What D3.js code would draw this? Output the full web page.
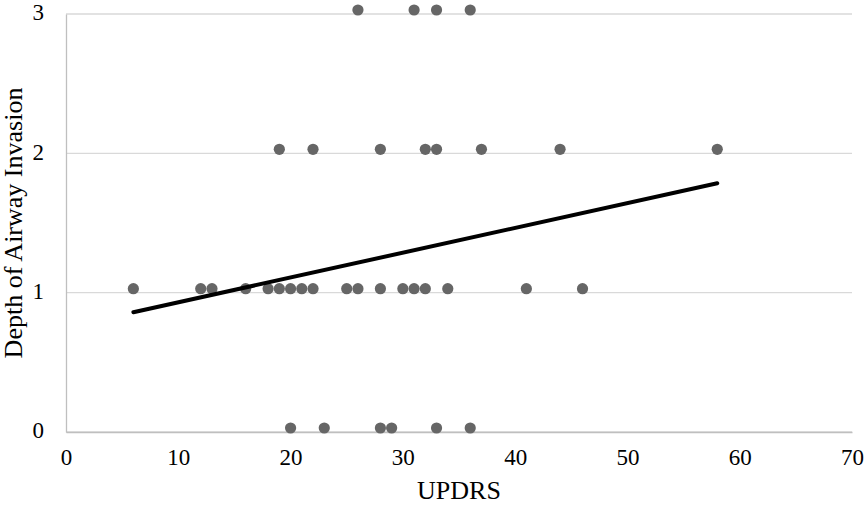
<!DOCTYPE html>
<html>
<head>
<meta charset="utf-8">
<script src="https://cdn.jsdelivr.net/npm/d3@7"></script>
<style>
  body { margin: 0; background: #fff; }
  svg text { font-family: "Liberation Serif", "Times New Roman", serif; fill: #000; }
  .tick text { font-size: 23px; }
</style>
</head>
<body>
<svg id="chart" width="866" height="505"></svg>
<script>
// UPDRS score of each patient, grouped by depth of airway invasion
const depth3 = [26, 31, 33, 36];
const depth2 = [19, 22, 28, 32, 33, 37, 44, 58];
const depth1 = [6, 12, 13, 16, 18, 19, 20, 21, 22, 25, 26, 28, 30, 31, 32, 34, 41, 46];
const depth0 = [20, 23, 28, 29, 33, 36];

// linear trendline (x, y)
const trendX = [6, 58];
const trendY = [0.86, 1.785];

const xTicks = [0, 10, 20, 30, 40, 50, 60, 70];
const yTicks = [0, 1, 2, 3];

const svg = d3.select("#chart");
const margin = {top: 14, right: 14, bottom: 73, left: 66};
const width = 866 - margin.left - margin.right;
const height = 505 - margin.top - margin.bottom;

const g = svg.append("g").attr("transform", `translate(${margin.left},${margin.top})`);

const x = d3.scaleLinear().domain([0, 70]).range([0, width]);
const y = d3.scaleLinear().domain([0, 3]).range([height, 0]);

// horizontal gridlines
g.append("g")
    .selectAll("line")
    .data(yTicks)
    .join("line")
    .attr("x1", 0).attr("x2", width)
    .attr("y1", d => y(d)).attr("y2", d => y(d))
    .attr("stroke", "#d9d9d9")
    .attr("stroke-width", 1.3);

// axes
const xAxis = g.append("g")
    .attr("transform", `translate(0,${height})`)
    .call(d3.axisBottom(x).tickValues(xTicks).tickFormat(d3.format("d")).tickSize(0).tickPadding(17));
const yAxis = g.append("g")
    .call(d3.axisLeft(y).tickValues(yTicks).tickFormat(d3.format("d")).tickSize(0).tickPadding(22));

[xAxis, yAxis].forEach(a => {
    a.attr("font-family", "Liberation Serif").attr("font-size", 23);
    a.select(".domain").attr("stroke", "#bfbfbf").attr("stroke-width", 1.3);
});
yAxis.selectAll("text").attr("dy", "0.25em");

// points (markers sit a few pixels above their gridline in the original)
const pts = [].concat(
    depth3.map(v => ({x: v, y: 3})),
    depth2.map(v => ({x: v, y: 2})),
    depth1.map(v => ({x: v, y: 1})),
    depth0.map(v => ({x: v, y: 0}))
);
g.append("g")
    .attr("transform", "translate(0,-4)")
    .selectAll("circle")
    .data(pts)
    .join("circle")
    .attr("cx", d => x(d.x))
    .attr("cy", d => y(d.y))
    .attr("r", 5.6)
    .attr("fill", "#666666");

// trendline
g.append("path")
    .datum(trendX.map((v, i) => [v, trendY[i]]))
    .attr("fill", "none")
    .attr("stroke", "#000")
    .attr("stroke-width", 4)
    .attr("stroke-linecap", "round")
    .attr("d", d3.line().x(d => x(d[0])).y(d => y(d[1])));

// axis titles
svg.append("text")
    .attr("x", margin.left + width / 2)
    .attr("y", 499)
    .attr("text-anchor", "middle")
    .style("font-size", "26px")
    .text("UPDRS");

svg.append("text")
    .attr("transform", `translate(22,${margin.top + height / 2}) rotate(-90)`)
    .attr("text-anchor", "middle")
    .style("font-size", "26px")
    .text("Depth of Airway Invasion");
</script>
</body>
</html>
